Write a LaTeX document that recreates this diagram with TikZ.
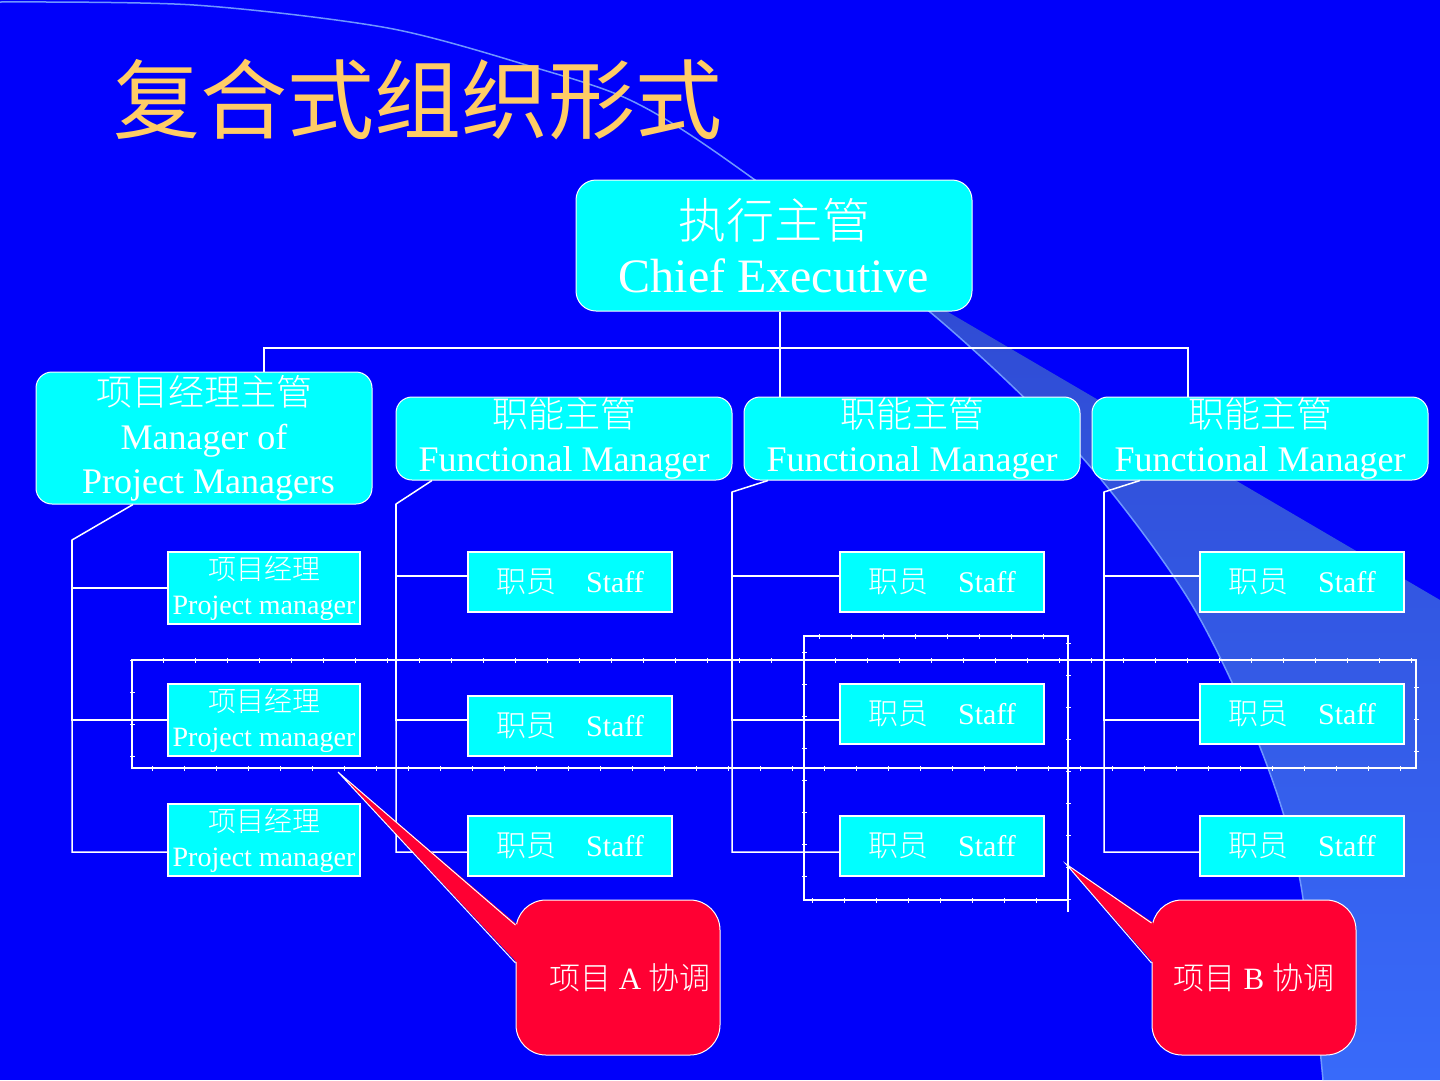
\documentclass[tikz,border=0pt]{standalone}
\usepackage{fontspec}
\setmainfont{Liberation Serif}
\newfontfamily\cjk{Noto Sans CJK SC Light}
\newfontfamily\cjktitle{Noto Sans CJK SC}
\definecolor{slideblue}{RGB}{0,0,250}
\definecolor{boxcyan}{RGB}{0,255,255}
\definecolor{titlegold}{RGB}{255,204,102}
\definecolor{callred}{RGB}{255,0,51}
\definecolor{swtop}{RGB}{46,70,205}
\definecolor{swbot}{RGB}{56,106,250}
\definecolor{swline}{RGB}{110,150,255}

\begin{document}
\begin{tikzpicture}[
  x=1pt, y=-1pt,
  wire/.style={draw=white, line width=1.5pt},
  frame/.style={draw=white, line width=1.5pt},
  ticks/.style={draw=white, line width=5pt, dash pattern=on 1pt off 31pt},
  chiefbox/.style={fill=boxcyan, draw=white, line width=1pt, rounded corners=20pt,
                   text=white, align=center, inner sep=0pt, minimum width=396pt,
                   minimum height=131pt, font=\fontsize{48}{54}\selectfont},
  headbox/.style={fill=boxcyan, draw=white, line width=1pt, rounded corners=16pt,
                  text=white, align=center, inner sep=0pt, minimum width=336pt,
                  font=\fontsize{36}{44}\selectfont},
  pmbox/.style={fill=boxcyan, draw=white, line width=1.5pt, text=white,
                align=center, inner sep=0pt, minimum width=192pt,
                minimum height=72pt, font=\fontsize{28}{35}\selectfont},
  staffbox/.style={fill=boxcyan, draw=white, line width=1.5pt, text=white,
                   inner sep=0pt, minimum width=204pt, minimum height=60pt,
                   font=\fontsize{30}{36}\selectfont},
  callbox/.style={fill=callred, draw=white, line width=1pt, rounded corners=30pt,
                  text=white, inner sep=0pt, minimum width=204pt,
                  minimum height=155pt, font=\fontsize{31}{36}\selectfont},
]
% slide background and swoosh
\fill[slideblue] (0,0) rectangle (1440,1080);
\useasboundingbox (0,0) rectangle (1440,1080);
\shade[top color=swtop, bottom color=swbot]
  plot[smooth] coordinates {(727,160) (930,312) (1080,455) (1189,600)
    (1260,747) (1300,880) (1323,1080)}
  -- (1440,1080) -- (1440,600) -- (948,312) -- cycle;
\draw[swline, line width=1.5pt]
  plot[smooth] coordinates {(0,2) (194,5) (388,28) (533,67) (630,100)
    (727,160) (930,312) (1080,455) (1189,600) (1260,747) (1300,880) (1323,1080)};

\node[font=\cjktitle\fontsize{87}{90}\selectfont, text=titlegold, anchor=west,
  inner sep=0pt] (title) at (113,100) {复合式组织形式};

% boxes
\node[chiefbox] (chief) at (774,245.5) {{\cjk 执行主管}\\Chief Executive};
\node[headbox, minimum height=132pt] (pmm) at (204,438)
  {{\cjk 项目经理主管}\\Manager of\\\hspace*{9pt}Project Managers};
\node[headbox, minimum height=83pt] (fm1) at (564,438.5)
  {{\cjk 职能主管}\\Functional Manager};
\node[headbox, minimum height=83pt] (fm2) at (912,438.5)
  {{\cjk 职能主管}\\Functional Manager};
\node[headbox, minimum height=83pt] (fm3) at (1260,438.5)
  {{\cjk 职能主管}\\Functional Manager};

\node[pmbox] (pm1) at (264,588) {{\cjk 项目经理}\\Project manager};
\node[pmbox] (pm2) at (264,720) {{\cjk 项目经理}\\Project manager};
\node[pmbox] (pm3) at (264,840) {{\cjk 项目经理}\\Project manager};

\node[staffbox] (s11) at (570,582) {{\cjk 职员}\quad Staff};
\node[staffbox] (s12) at (570,726) {{\cjk 职员}\quad Staff};
\node[staffbox] (s13) at (570,846) {{\cjk 职员}\quad Staff};
\node[staffbox] (s21) at (942,582) {{\cjk 职员}\quad Staff};
\node[staffbox] (s22) at (942,714) {{\cjk 职员}\quad Staff};
\node[staffbox] (s23) at (942,846) {{\cjk 职员}\quad Staff};
\node[staffbox] (s31) at (1302,582) {{\cjk 职员}\quad Staff};
\node[staffbox] (s32) at (1302,714) {{\cjk 职员}\quad Staff};
\node[staffbox] (s33) at (1302,846) {{\cjk 职员}\quad Staff};

% top bus
\coordinate (busl) at (264,348);
\coordinate (busr) at (1188,348);
\draw[wire] ([xshift=6pt]chief.south) -- ([xshift=6pt]chief.south |- fm2.north);
\draw[wire] (busl |- pmm.north) -- (busl) -- (busr) -- (busr |- fm3.north);

% project manager line
\coordinate (pmk) at (72,540);
\draw[wire] ([xshift=-71pt]pmm.south) -- (pmk) |- ([yshift=-12pt]pm3.west);
\draw[wire] (pm1.west) -| (pmk);
\draw[wire] (pm2.west) -| (pmk);

% functional lines
\coordinate (fk1) at (396,504);
\coordinate (fk2) at (732,492);
\coordinate (fk3) at (1104,492);
\draw[wire] ([xshift=-132pt]fm1.south) -- (fk1) |- ([yshift=-6pt]s13.west);
\draw[wire] ([yshift=6pt]s11.west) -| (fk1);
\draw[wire] ([yshift=6pt]s12.west) -| (fk1);
\draw[wire] ([xshift=-144pt]fm2.south) -- (fk2) |- ([yshift=-6pt]s23.west);
\draw[wire] ([yshift=6pt]s21.west) -| (fk2);
\draw[wire] ([yshift=-6pt]s22.west) -| (fk2);
\draw[wire] ([xshift=-120pt]fm3.south) -- (fk3) |- ([yshift=-6pt]s33.west);
\draw[wire] ([yshift=6pt]s31.west) -| (fk3);
\draw[wire] ([yshift=-6pt]s32.west) -| (fk3);

% project frames
\draw[frame] (132,660) rectangle (1416,768);
\draw[ticks] (132,660) rectangle (1416,768);
\draw[frame] (1068,912) -- (1068,636) -- (804,636) -- (804,900) -- (1068,900);
\draw[ticks] (1068,900) -- (1068,636) -- (804,636) -- (804,900) -- (1068,900);

% callouts
\node[callbox] (calla) at (618,977.5) {\hspace*{24pt}{\cjk 项目} A {\cjk 协调}};
\node[callbox] (callb) at (1254,977.5) {{\cjk 项目} B {\cjk 协调}};
\coordinate (tipa) at (338,772);
\coordinate (tipb) at (1066,864);
\fill[callred] (tipa) -- ([xshift=2pt,yshift=52.5pt]calla.west)
  -- ([xshift=2pt,yshift=14.5pt]calla.west) -- cycle;
\draw[white, line width=1pt] ([yshift=52.5pt]calla.west) -- (tipa)
  -- ([yshift=14.5pt]calla.west);
\fill[callred] (tipb) -- ([xshift=2pt,yshift=54.5pt]callb.west)
  -- ([xshift=2pt,yshift=14.5pt]callb.west) -- cycle;
\draw[white, line width=1pt] ([yshift=54.5pt]callb.west) -- (tipb)
  -- ([yshift=14.5pt]callb.west);
\end{tikzpicture}
\end{document}
